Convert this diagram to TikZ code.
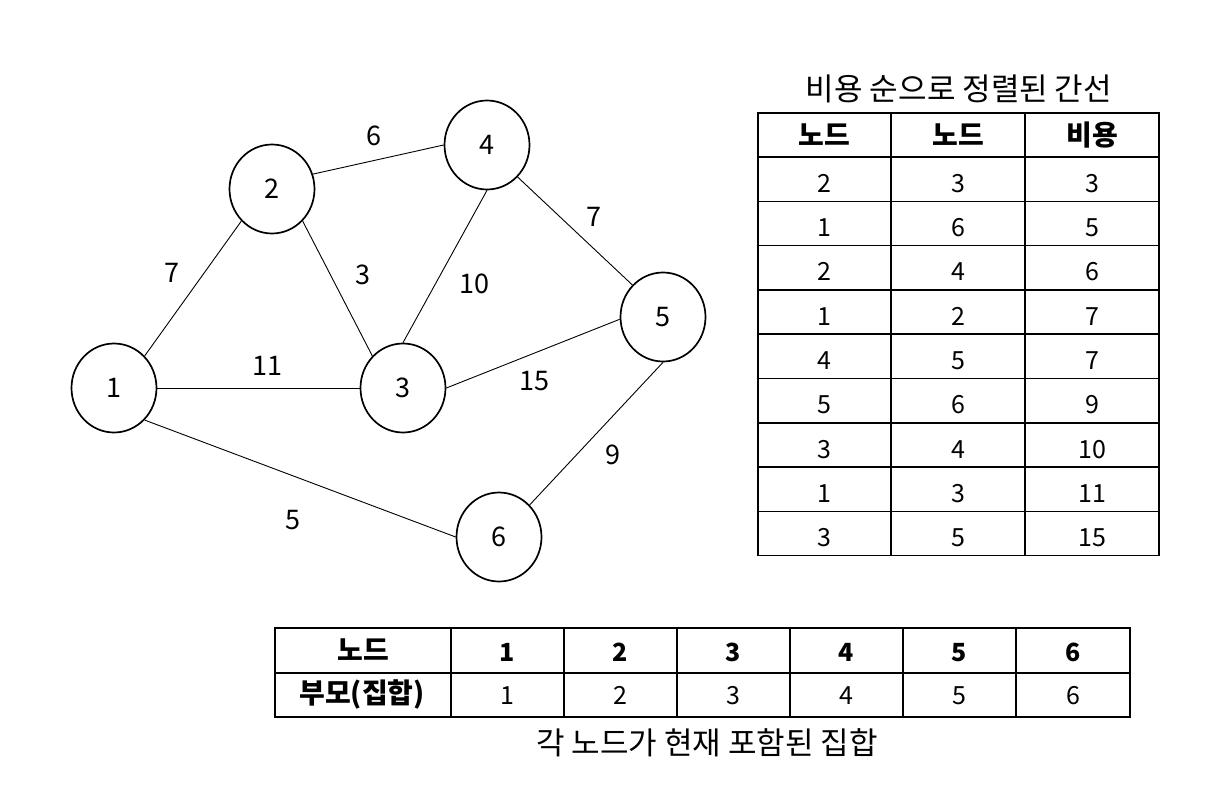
\documentclass[tikz,border=0pt]{standalone}
\usepackage{fontspec}
\setmainfont{Noto Sans CJK KR}
\usetikzlibrary{shapes.geometric}
\begin{document}
\begin{tikzpicture}[x=1pt,y=-1pt,
  vtx/.style={draw, line width=1.7pt, ellipse, minimum width=85pt, minimum height=89pt, inner sep=0pt, font=\fontsize{27}{30}\selectfont, text height=19.8pt, text depth=0pt},
  edge/.style={line width=0.9pt},
  wlab/.style={font=\fontsize{27}{30}\selectfont, inner sep=0pt, text height=19.8pt, text depth=0pt},
  tgrid/.style={line width=1.6pt},
  cell/.style={font=\fontsize{25}{28}\selectfont, inner sep=0pt, text height=18.3pt, text depth=0pt},
  hcell/.style={font=\fontsize{25}{28}\selectfont\bfseries, inner sep=0pt, text height=18.3pt, text depth=0pt},
  hkr/.style={font=\fontsize{28}{30}\selectfont\bfseries, inner sep=0pt},
  captext/.style={font=\fontsize{31}{34}\selectfont, inner sep=0pt}
]
\useasboundingbox (0,0) rectangle (1232,787);
\fill[white] (0,0) rectangle (1232,787);

% graph
\node[vtx] (n1) at (114,388) {1};
\node[vtx] (n2) at (272,189) {2};
\node[vtx] (n3) at (403,388) {3};
\node[vtx] (n4) at (487,145) {4};
\node[vtx] (n5) at (663,317) {5};
\node[vtx] (n6) at (499,537) {6};

\draw[edge] (n1.north east) -- (n2.south west);
\draw[edge] (n2.20) -- (n4.west);
\draw[edge] (n1.east) -- (n3.west);
\draw[edge] (n1.south east) -- (n6.west);
\draw[edge] (n2.south east) -- (n3.north west);
\draw[edge] (n4.south) -- (n3.north);
\draw[edge] (n4.south east) -- (n5.north west);
\draw[edge] (n3.east) -- (n5.183);
\draw[edge] (n5.south) -- (n6.north east);

\node[wlab] (w24) at (374,136) {6};
\node[wlab] (w12) at (172,273) {7};
\node[wlab] (w23) at (363,275) {3};
\node[wlab] (w43) at (474,284) {10};
\node[wlab] (w45) at (594,217) {7};
\node[wlab] (w13) at (267,366) {11};
\node[wlab] (w35) at (534,381) {15};
\node[wlab] (w56) at (613,455) {9};
\node[wlab] (w16) at (293,520) {5};

% right table
\node[captext] (title) at (959,89) {비용 순으로 정렬된 간선};
\draw[tgrid] (758,113) rectangle (1159,555.5);
\foreach \x in {891,1025} \draw[tgrid] (\x,113) -- (\x,555.5);
\draw[tgrid] (758,157) -- (1159,157);
\foreach \k in {1,...,8} \draw[tgrid] (758,{157+44.3*\k}) -- (1159,{157+44.3*\k});
\node[hkr] at (824.5,135) {노드};
\node[hkr] at (958,135) {노드};
\node[hkr] at (1092,135) {비용};
\foreach \a/\b/\c [count=\i] in {2/3/3,1/6/5,2/4/6,1/2/7,4/5/7,5/6/9,3/4/10,1/3/11,3/5/15}{
  \node[cell] at (824.5,{134.85+44.3*\i+4}) {\a};
  \node[cell] at (958,{134.85+44.3*\i+4}) {\b};
  \node[cell] at (1092,{134.85+44.3*\i+4}) {\c};
}

% bottom table
\draw[tgrid] (275,628) rectangle (1130,717);
\draw[tgrid] (275,673) -- (1130,673);
\foreach \x in {451,564,677,790,903,1016} \draw[tgrid] (\x,628) -- (\x,717);
\node[hkr] at (363,650) {노드};
\node[hkr] at (362,694) {부모(집합)};
\foreach \v/\x in {1/507.5,2/620.5,3/733.5,4/846.5,5/959.5,6/1073}{
  \node[hcell] at (\x,652) {\v};
  \node[cell] at (\x,695.5) {\v};
}
\node[captext] (caption) at (707,743) {각 노드가 현재 포함된 집합};
\end{tikzpicture}
\end{document}
